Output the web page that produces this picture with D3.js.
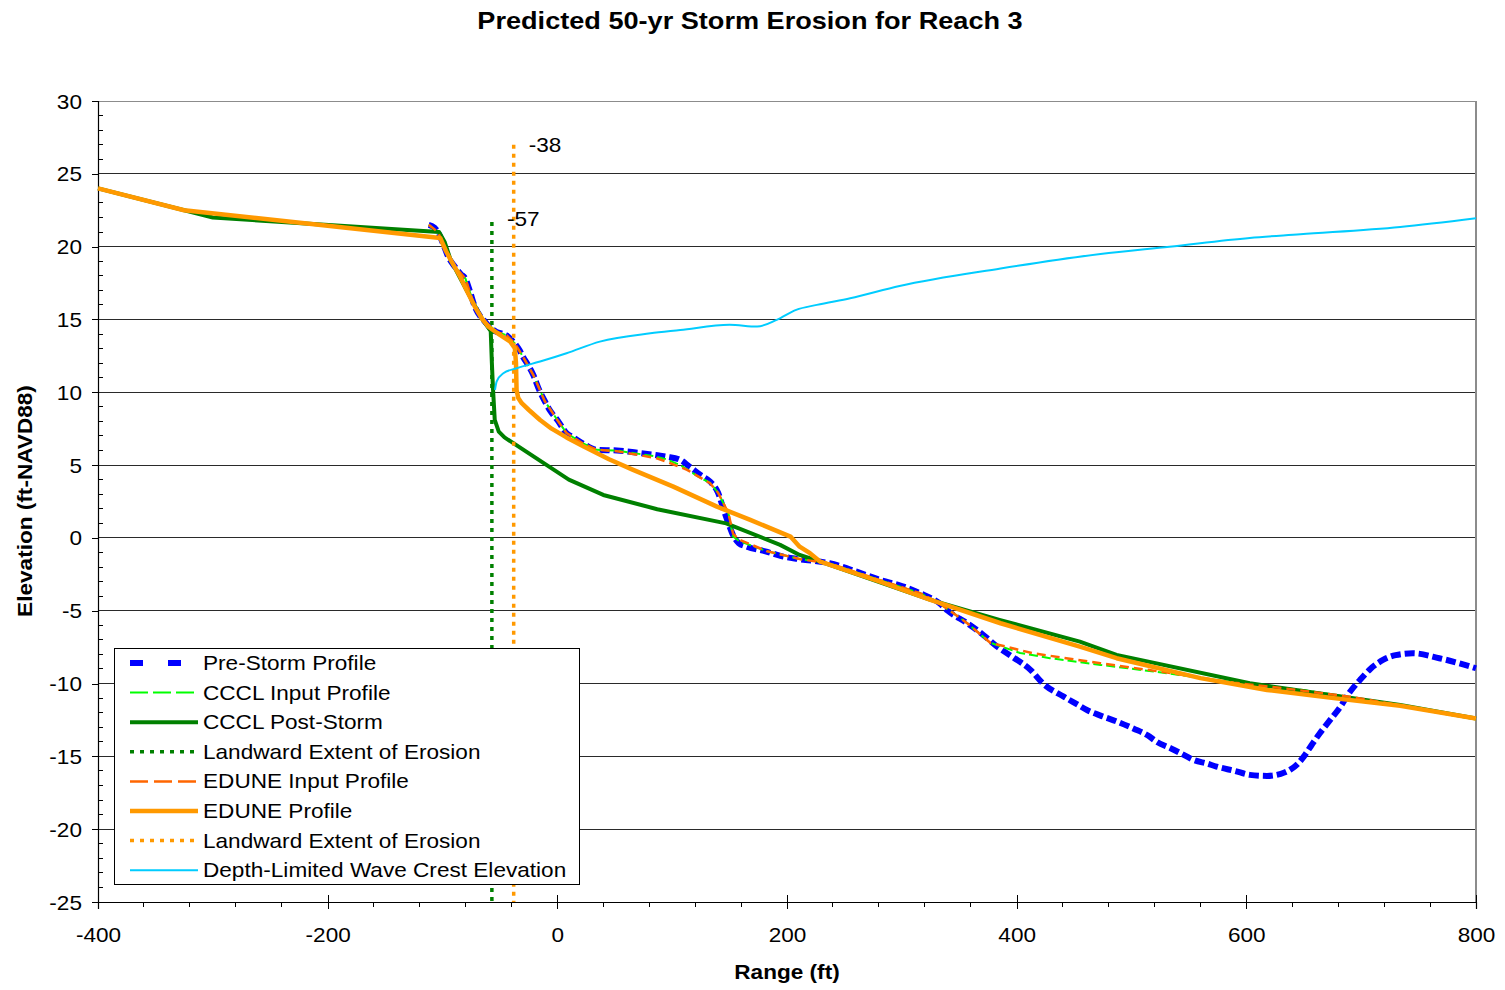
<!DOCTYPE html>
<html>
<head>
<meta charset="utf-8">
<script src="https://cdn.jsdelivr.net/npm/d3@7"></script>
<style>
  html, body { margin: 0; padding: 0; background: #fff; }
  svg { display: block; font-family: "Liberation Sans", Arial, sans-serif; }
</style>
</head>
<body>
<svg id="chart" width="1505" height="990"></svg>
<script>
// ---- Data --------------------------------------------------------------
const xTicks = [-400, -200, 0, 200, 400, 600, 800];
const yTicks = [30, 25, 20, 15, 10, 5, 0, -5, -10, -15, -20, -25];

// Pre-storm surveyed profile
const preStormX = [-112,-107,-104,-100,-95,-89,-84,-80,-76,-72,-67,-63,-58,-53,-47,-44,-40,-37,-33,-30,-25,-21,-16,-11,-6,0,8,14,22,34,52,70,85,95,107,115,125,133,140,145,149,153,158,165,182,195,211,237,260,281,300,316,333,340,357,370,383,397,412,423,441,452,462,473,487,502,514,522,534,548,554,566,574,590,603,618,630,638,645,650,657,664,673,682,690,699,708,719,730,745,768,785,800];
const preStormY = [21.5,21.3,21.0,20.3,19.3,18.6,18.1,17.8,16.9,15.9,15.2,14.85,14.4,14.15,14.0,13.9,13.6,13.35,12.9,12.45,11.8,11.2,10.2,9.4,8.7,8.1,7.2,6.9,6.5,6.05,6.0,5.85,5.7,5.58,5.36,4.9,4.3,3.87,3.1,1.9,1.0,0.2,-0.36,-0.6,-0.94,-1.25,-1.46,-1.74,-2.3,-2.88,-3.3,-3.8,-4.5,-5.0,-5.86,-6.6,-7.46,-8.2,-9.06,-10.0,-10.9,-11.4,-11.85,-12.2,-12.6,-13.1,-13.55,-14.0,-14.44,-15.0,-15.24,-15.5,-15.7,-16.0,-16.27,-16.34,-16.2,-15.93,-15.5,-15.02,-14.2,-13.41,-12.5,-11.58,-10.6,-9.75,-9.0,-8.38,-8.05,-7.92,-8.26,-8.6,-8.95];

// CCCL model input profile
const ccclInputX = [-112,-104,-100,-95,-89,-80,-72,-63,-53,-44,-37,-30,-21,-11,0,8,22,34,52,85,95,107,115,125,133,140,149,153,158,182,211,237,281,316,333,357,377,403,429,473,531,595,650,734,800];
const ccclInputY = [21.5,21.0,20.3,19.3,18.6,17.8,15.9,14.85,14.15,13.9,13.35,12.45,11.2,9.4,8.1,7.2,6.5,6.05,6.0,5.6,5.4,5.0,4.6,4.1,3.8,3.1,1.7,0.1,-0.2,-0.9,-1.45,-1.75,-2.9,-3.8,-4.5,-5.86,-7.2,-7.9,-8.26,-8.72,-9.29,-9.98,-10.45,-11.5,-12.4];

// CCCL post-storm profile
const ccclPostX = [-400,-300,-103,-98,-93,-79,-66,-58,-57,-56,-54.5,-51,-46,10,40,87,147,194,211,229,325,385,455,487,603,734,800];
const ccclPostY = [24,22,21,20.3,19.1,17.0,15.1,14.2,12,10.2,8.1,7.3,6.9,4.0,2.95,1.97,1.0,-0.48,-1.17,-1.63,-4.26,-5.63,-7.12,-8.03,-9.98,-11.47,-12.4];

// EDUNE model input profile
const eduneInputX = [-112,-104,-100,-95,-89,-80,-72,-63,-53,-44,-37,-30,-21,-11,0,8,22,34,52,85,95,113,133,140,149,153,158,182,211,237,281,316,333,357,377,414,473,531,589,632,690,734,800];
const eduneInputY = [21.5,21.0,20.3,19.3,18.6,17.8,15.9,14.85,14.15,13.9,13.35,12.45,11.2,9.4,8.1,7.2,6.5,6.05,5.95,5.5,5.24,4.67,3.75,3.1,1.7,0.3,-0.1,-0.9,-1.45,-1.75,-2.9,-3.8,-4.5,-5.86,-7.2,-7.92,-8.6,-9.25,-9.94,-10.32,-10.9,-11.5,-12.4];

// EDUNE post-storm profile
const eduneX = [-400,-325,-200,-102,-97,-93,-85,-79,-72,-66,-60,-50,-41,-37,-36,-35.5,-34,-31,-25,-15,-5,8,23,45,66,101,139,168,203,211,220,229,281,325,386,455,487,560,618,676,734,800];
const eduneY = [24,22.5,21.43,20.6,19.7,19.1,18.0,17.0,15.9,15.1,14.5,13.94,13.48,13.03,12.0,10.16,9.6,9.25,8.8,8.1,7.5,6.9,6.27,5.4,4.67,3.52,2.15,1.24,0.09,-0.6,-1.05,-1.63,-3.0,-4.26,-5.86,-7.46,-8.26,-9.63,-10.44,-11.0,-11.53,-12.4];

// Depth-limited wave crest elevation
const waveX = [-54.3,-52.8,-47,-35.4,-15,8,37,81,107,150,174,191,208,226,255,298,386,473,533,603,647,734,800];
const waveY = [10.16,10.74,11.31,11.65,12.11,12.68,13.48,14.05,14.27,14.63,14.51,14.97,15.66,16.0,16.46,17.3,18.5,19.5,20.0,20.6,20.85,21.35,21.95];

// Landward extent of erosion
const ccclLandward = -57;
const ccclLandwardTop = 21.7;
const eduneLandward = -38;
const eduneLandwardTop = 27;

// ---- Layout ------------------------------------------------------------
const svg = d3.select("#chart");
const plot = { left: 98, right: 1476, top: 101, bottom: 902 };
const SX = 1.13; // horizontal text stretch

const x = d3.scaleLinear().domain([-400, 800]).range([plot.left, plot.right]);
const y = d3.scaleLinear().domain([-25, 30]).range([plot.bottom, plot.top]);

function addText(parent, px, py, str, size, bold, anchor) {
  return parent.append("text")
    .attr("transform", `translate(${px},${py}) scale(${SX},1)`)
    .attr("text-anchor", anchor || "start")
    .attr("font-weight", bold ? "bold" : "normal")
    .attr("fill", "#000")
    .style("font-size", size + "px")
    .text(str);
}

// Horizontal gridlines
svg.append("g").selectAll("line")
  .data(yTicks.filter(v => v !== -25))
  .join("line")
  .attr("x1", plot.left).attr("x2", plot.right)
  .attr("y1", d => y(d)).attr("y2", d => y(d))
  .attr("stroke", d => d === 30 ? "#8c8c8c" : "#2a2a2a")
  .attr("stroke-width", 1)
  .attr("shape-rendering", "crispEdges");

// Right border of plot area
svg.append("line")
  .attr("x1", plot.right).attr("x2", plot.right)
  .attr("y1", plot.top).attr("y2", plot.bottom)
  .attr("stroke", "#8c8c8c").attr("stroke-width", 2);

// Minor ticks
const yMinor = d3.range(-25, 31, 1).filter(v => v % 5 !== 0);
svg.append("g").selectAll("line").data(yMinor).join("line")
  .attr("x1", plot.left).attr("x2", plot.left + 5)
  .attr("y1", d => y(d)).attr("y2", d => y(d))
  .attr("stroke", "#000").attr("shape-rendering", "crispEdges");
const xMinor = d3.range(-400, 801, 40).filter(v => v % 200 !== 0);
svg.append("g").selectAll("line").data(xMinor).join("line")
  .attr("x1", d => x(d)).attr("x2", d => x(d))
  .attr("y1", plot.bottom).attr("y2", plot.bottom + 5)
  .attr("stroke", "#000").attr("shape-rendering", "crispEdges");

// Axes
const yAxis = d3.axisLeft(y).tickValues(yTicks).tickSize(6).tickFormat(d => String(d));
const xAxis = d3.axisBottom(x).tickValues(xTicks).tickSize(7).tickFormat(d => String(d));

const gy = svg.append("g").attr("transform", `translate(${plot.left},0)`).call(yAxis);
const gx = svg.append("g").attr("transform", `translate(0,${plot.bottom})`).call(xAxis);
[gx, gy].forEach(g => {
  g.select(".domain").attr("stroke", "#000").attr("stroke-width", 1.2);
  g.selectAll(".tick line").attr("stroke", "#000").attr("shape-rendering", "crispEdges");
  g.selectAll(".tick text").attr("fill", "#000")
    .style("font-size", "20px").style("font-family", "'Liberation Sans', Arial, sans-serif");
});
gx.selectAll(".tick line").attr("y1", -7);
gx.selectAll(".tick text").attr("y", 0).attr("dy", 0)
  .attr("transform", `translate(0,40) scale(${SX},1)`);
gy.selectAll(".tick text").attr("x", 0).attr("dy", "0.35em")
  .attr("transform", `translate(-16,0) scale(${SX},1)`);

// ---- Series ------------------------------------------------------------
const lineLinear = d3.line().x(d => x(d[0])).y(d => y(d[1]));
const lineSmooth = d3.line().x(d => x(d[0])).y(d => y(d[1])).curve(d3.curveMonotoneX);
const zip = (xs, ys) => xs.map((v, i) => [v, ys[i]]);

const series = [
  { name: "Pre-Storm Profile", data: zip(preStormX, preStormY), color: "#0000ff", width: 6, dash: "10,4", legendDash: "13,25", smooth: true },
  { name: "CCCL Input Profile", data: zip(ccclInputX, ccclInputY), color: "#00ff00", width: 2, dash: "9,4", legendDash: "18,5" },
  { name: "CCCL Post-Storm", data: zip(ccclPostX, ccclPostY), color: "#008000", width: 4, dash: null, legendDash: null },
  { name: "Landward Extent of Erosion", data: [[ccclLandward, ccclLandwardTop], [ccclLandward, -25]], color: "#008000", width: 3.5, dash: "4,5", legendDash: "4,6" },
  { name: "EDUNE Input Profile", data: zip(eduneInputX, eduneInputY), color: "#ff6600", width: 2.5, dash: "9,5", legendDash: "18,6" },
  { name: "EDUNE Profile", data: zip(eduneX, eduneY), color: "#ff9900", width: 4.5, dash: null, legendDash: null },
  { name: "Landward Extent of Erosion", data: [[eduneLandward, eduneLandwardTop], [eduneLandward, -25]], color: "#ff9900", width: 3.5, dash: "4,5", legendDash: "4,6" },
  { name: "Depth-Limited Wave Crest Elevation", data: zip(waveX, waveY), color: "#00ccff", width: 2, dash: null, legendDash: null, smooth: true }
];

const gSeries = svg.append("g");
series.forEach(s => {
  gSeries.append("path")
    .datum(s.data)
    .attr("d", s.smooth ? lineSmooth : lineLinear)
    .attr("fill", "none")
    .attr("stroke", s.color)
    .attr("stroke-width", s.width)
    .attr("stroke-linejoin", "round")
    .attr("stroke-dasharray", s.dash);
});

// Value labels for landward extents
addText(svg, x(eduneLandward) + 15, y(eduneLandwardTop) + 7, String(eduneLandward), 20);
addText(svg, x(ccclLandward) + 15, y(ccclLandwardTop) + 4, String(ccclLandward), 20);

// ---- Legend ------------------------------------------------------------
const legend = svg.append("g").attr("transform", "translate(114,648)");
legend.append("rect").attr("width", 465).attr("height", 236)
  .attr("fill", "#fff").attr("stroke", "#000").attr("stroke-width", 1)
  .attr("shape-rendering", "crispEdges");
series.forEach((s, i) => {
  const cy = 15 + i * 29.6;
  legend.append("line")
    .attr("x1", 16).attr("x2", 84).attr("y1", cy).attr("y2", cy)
    .attr("stroke", s.color)
    .attr("stroke-width", s.width)
    .attr("stroke-dasharray", s.legendDash);
  addText(legend, 89, cy + 7, s.name, 20);
});

// ---- Titles ------------------------------------------------------------
addText(svg, 750, 29, "Predicted 50-yr Storm Erosion for Reach 3", 24, true, "middle");
addText(svg, 787, 979, "Range (ft)", 20, true, "middle");
svg.append("text").attr("transform", `translate(32,501) rotate(-90) scale(${SX},1)`).attr("text-anchor", "middle")
  .attr("font-weight", "bold").style("font-size", "20px")
  .text("Elevation (ft-NAVD88)");
</script>
</body>
</html>
